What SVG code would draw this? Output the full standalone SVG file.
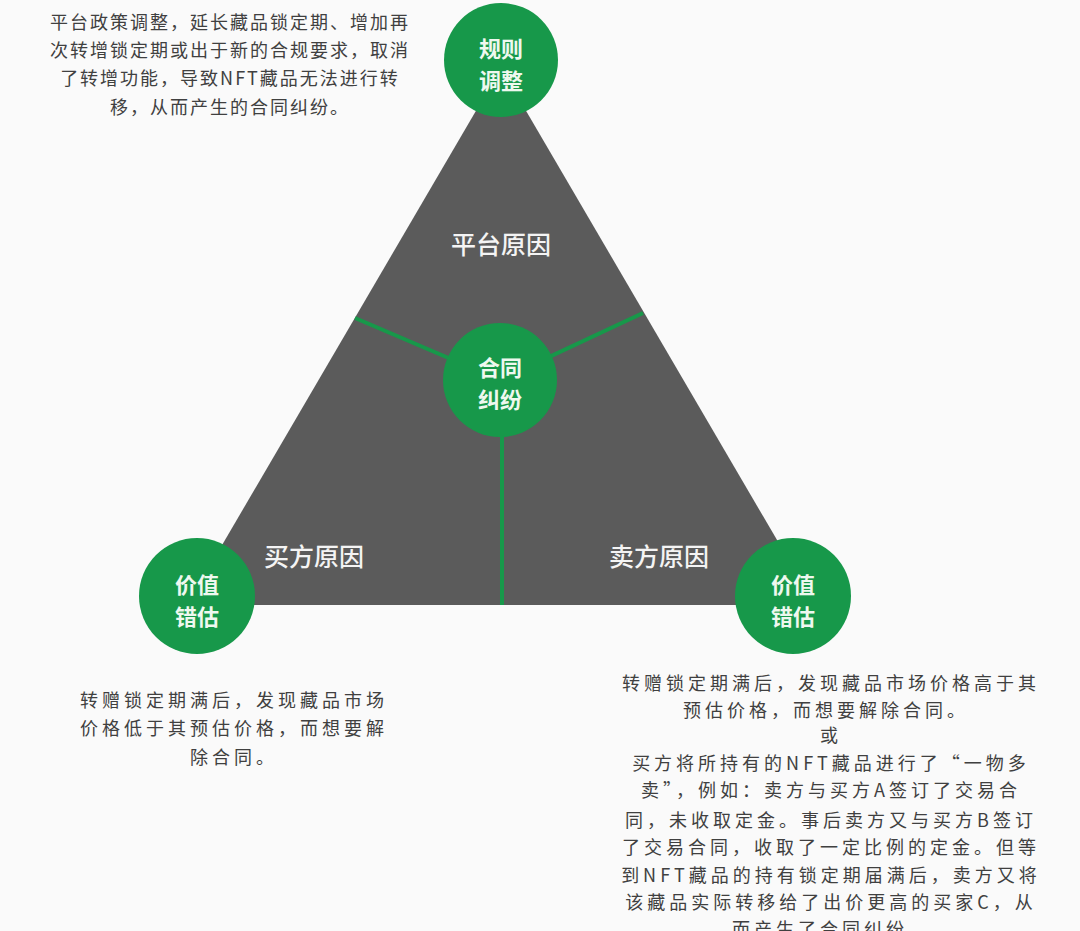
<svg xmlns="http://www.w3.org/2000/svg" width="1080" height="931" viewBox="0 0 1080 931">
<style>
.bg{fill:#fafafa}
.tri{fill:#5b5b5b}
.conn{stroke:#17984a;stroke-width:4;fill:none}
.circ{fill:#17984a}
.ctext{font-family:"Noto Sans CJK SC","Noto Sans",sans-serif;font-size:22px;font-weight:700;fill:#eef8ef;text-anchor:middle}
.zone{font-family:"Noto Sans CJK SC","Noto Sans",sans-serif;font-size:25px;font-weight:500;fill:#f4f4f4;text-anchor:middle}
.note{font-family:"Noto Sans CJK SC","Noto Sans",sans-serif;font-size:18px;font-weight:400;fill:#404040;text-anchor:middle}
.sp2{letter-spacing:2px}
.sp4{letter-spacing:4px}
</style>
<rect class="bg" x="0" y="0" width="1080" height="931"/>
<g id="triangle">
<polygon class="tri" points="501,68 815,605 187,605"/>
<text class="zone" x="501" y="254">平台原因</text>
<text class="zone" x="314" y="566">买方原因</text>
<text class="zone" x="659" y="566">卖方原因</text>
</g>
<g id="connectors">
<line class="conn" x1="500" y1="380" x2="355" y2="318"/>
<line class="conn" x1="500" y1="380" x2="643" y2="313"/>
<line class="conn" x1="502" y1="380" x2="502" y2="605"/>
</g>
<g id="node-center">
<circle class="circ" cx="500" cy="380" r="57"/>
<text class="ctext" x="500" y="376">合同</text>
<text class="ctext" x="500" y="408">纠纷</text>
</g>
<g id="node-top">
<circle class="circ" cx="501" cy="60" r="57"/>
<text class="ctext" x="501" y="57">规则</text>
<text class="ctext" x="501" y="89">调整</text>
</g>
<g id="node-left">
<circle class="circ" cx="197" cy="596" r="58"/>
<text class="ctext" x="197" y="593">价值</text>
<text class="ctext" x="197" y="625">错估</text>
</g>
<g id="node-right">
<circle class="circ" cx="793" cy="596" r="58"/>
<text class="ctext" x="793" y="593">价值</text>
<text class="ctext" x="793" y="625">错估</text>
</g>
<g id="note-top" class="note sp2">
<text x="230" y="29">平台政策调整，延长藏品锁定期、增加再</text>
<text x="230" y="57">次转增锁定期或出于新的合规要求，取消</text>
<text x="230" y="85">了转增功能，导致NFT藏品无法进行转</text>
<text x="230" y="114">移，从而产生的合同纠纷。</text>
</g>
<g id="note-left" class="note sp4">
<text x="234" y="707">转赠锁定期满后，发现藏品市场</text>
<text x="234" y="735">价格低于其预估价格，而想要解</text>
<text x="234" y="764">除合同。</text>
</g>
<g id="note-right" class="note sp4">
<text x="831" y="690">转赠锁定期满后，发现藏品市场价格高于其</text>
<text x="826" y="717">预估价格，而想要解除合同。</text>
<text x="831" y="742">或</text>
<text x="831" y="770">买方将所持有的NFT藏品进行了“一物多</text>
<text x="831" y="797">卖”，例如：卖方与买方A签订了交易合</text>
<text x="831" y="827">同，未收取定金。事后卖方又与买方B签订</text>
<text x="831" y="854">了交易合同，收取了一定比例的定金。但等</text>
<text x="831" y="882">到NFT藏品的持有锁定期届满后，卖方又将</text>
<text x="831" y="909">该藏品实际转移给了出价更高的买家C，从</text>
<text x="831" y="936">而产生了合同纠纷。</text>
</g>
</svg>
